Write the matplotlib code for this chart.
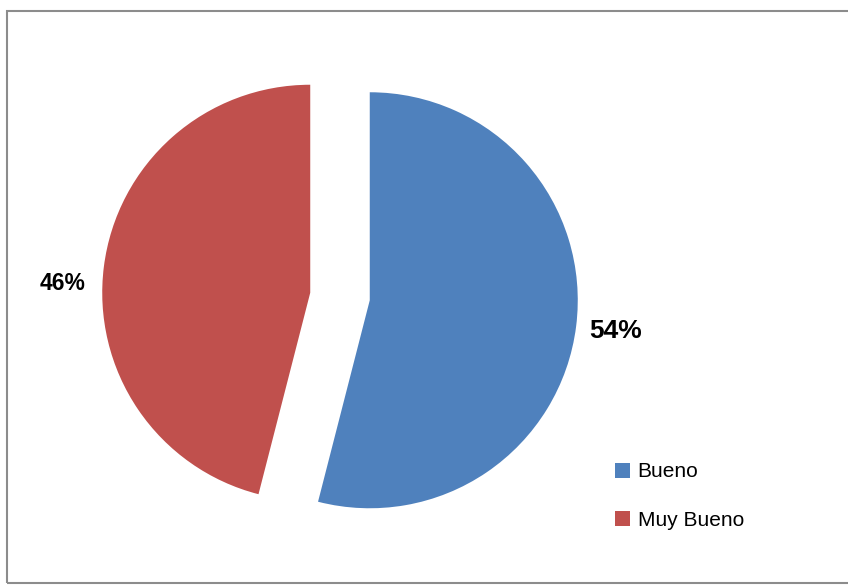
import matplotlib.pyplot as plt
from matplotlib.patches import Rectangle

categories = ["Bueno", "Muy Bueno"]
values = [54, 46]
colors = ["#4F81BD", "#C0504D"]

W, H = 848, 585
R_PX = 208.0
CX, CY = 340.0, 296.5  # pie centre in pixels (from top-left)

fig = plt.figure(figsize=(W / 100, H / 100), dpi=100)
plt.rcParams['font.family'] = ['Liberation Sans', 'DejaVu Sans']

# outer frame (right side runs off the picture)
fig.patches.append(Rectangle((6.5 / W, 2 / H), 2.0, (H - 13) / H,
                             transform=fig.transFigure, fill=False,
                             edgecolor="#8c8c8c", linewidth=1.5))

ax = fig.add_axes([0, 0, 1, 1])

explode = 30 / R_PX
wedges, texts, autotexts = ax.pie(values, colors=colors, startangle=90,
                                  counterclock=False,
                                  explode=[explode, explode],
                                  autopct='%1.0f%%', pctdistance=1.19,
                                  wedgeprops={'linewidth': 0})

# pie() resets the limits, so set them afterwards
ax.set_xlim(-CX / R_PX, (W - CX) / R_PX)
ax.set_ylim(-(H - CY) / R_PX, CY / R_PX)
ax.set_aspect('equal')
ax.axis('off')

autotexts[0].set_fontsize(19)
autotexts[0].set_fontweight('bold')
autotexts[1].set_fontsize(16.5)
autotexts[1].set_fontweight('bold')
# red label sits a bit lower than its bisector
cx_red, cy_red = wedges[1].center
autotexts[1].set_position((cx_red - 1.19, cy_red + 0.046))

ax.legend(wedges, categories, loc='upper left',
          bbox_to_anchor=(605 / W, 1 - 452 / H), bbox_transform=fig.transFigure,
          frameon=False, fontsize=15, handlelength=0.72, handleheight=0.72,
          handletextpad=0.35, labelspacing=1.4, borderpad=0)

fig.savefig("out.png", dpi=100)
